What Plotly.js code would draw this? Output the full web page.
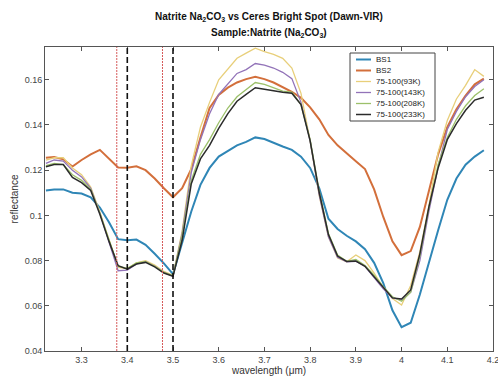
<!DOCTYPE html>
<html>
<head>
<meta charset="utf-8">
<script src="https://cdn.plot.ly/plotly-3.0.1.min.js"></script>
<style>html,body{margin:0;padding:0;background:#fff;}#chart{width:498px;height:380px;}</style>
</head>
<body>
<div id="chart"></div>
<script>
// ---- data ----
const wavelength = [3.222,3.24,3.26,3.28,3.30,3.32,3.34,3.36,3.38,3.40,3.42,3.44,3.46,3.48,3.50,3.52,3.54,3.56,3.58,3.60,3.62,3.64,3.66,3.68,3.70,3.72,3.74,3.76,3.78,3.80,3.82,3.84,3.86,3.88,3.90,3.92,3.94,3.96,3.98,4.00,4.02,4.04,4.06,4.08,4.10,4.12,4.14,4.16,4.18];

const seriesNames = ["BS1","BS2","75-100(93K)","75-100(143K)","75-100(208K)","75-100(233K)"];

const bs1 = [0.111,0.1115,0.1115,0.110,0.1097,0.108,0.1035,0.097,0.0895,0.089,0.0893,0.087,0.083,0.0788,0.074,0.088,0.1017,0.1135,0.121,0.126,0.1287,0.131,0.1325,0.1345,0.1338,0.132,0.1305,0.129,0.126,0.121,0.112,0.0985,0.094,0.091,0.0885,0.085,0.079,0.070,0.058,0.0505,0.0525,0.065,0.0794,0.0934,0.1069,0.1163,0.1224,0.126,0.1288];

const bs2 = [0.1255,0.1258,0.1248,0.1216,0.1245,0.127,0.129,0.125,0.1212,0.1211,0.1217,0.120,0.1163,0.112,0.108,0.112,0.1205,0.1345,0.1475,0.1533,0.1565,0.1588,0.1603,0.1613,0.1603,0.1588,0.1568,0.1547,0.152,0.1478,0.1425,0.1356,0.131,0.1277,0.124,0.1205,0.1115,0.0993,0.0885,0.0824,0.0842,0.0949,0.111,0.127,0.139,0.147,0.153,0.158,0.1605];

const k93 = [0.1245,0.1255,0.1255,0.121,0.118,0.1125,0.1015,0.089,0.077,0.0765,0.079,0.080,0.078,0.0752,0.0735,0.093,0.122,0.139,0.150,0.160,0.165,0.1695,0.1718,0.174,0.1725,0.1712,0.1695,0.1652,0.154,0.133,0.1085,0.0905,0.0812,0.0795,0.0825,0.080,0.0745,0.068,0.0632,0.0603,0.069,0.084,0.1045,0.128,0.142,0.1515,0.1575,0.1645,0.1615];

const k143 = [0.123,0.1245,0.124,0.120,0.117,0.112,0.101,0.088,0.0755,0.0758,0.0785,0.0795,0.0775,0.0748,0.073,0.092,0.119,0.1335,0.145,0.1535,0.158,0.1628,0.1645,0.1672,0.1665,0.1652,0.1633,0.1605,0.150,0.133,0.109,0.0905,0.0815,0.0795,0.0797,0.0775,0.0725,0.0675,0.0635,0.0625,0.066,0.080,0.102,0.1215,0.138,0.146,0.1525,0.157,0.160];

const k208 = [0.122,0.123,0.1225,0.118,0.1155,0.1115,0.101,0.089,0.0775,0.0765,0.079,0.0795,0.0775,0.0748,0.0733,0.091,0.1155,0.127,0.1335,0.141,0.1475,0.1525,0.1555,0.1588,0.158,0.1565,0.155,0.1545,0.149,0.1335,0.1105,0.092,0.0825,0.0797,0.0805,0.0778,0.0735,0.0685,0.064,0.062,0.066,0.082,0.1035,0.1225,0.1345,0.1425,0.1485,0.153,0.156];

const k233 = [0.1215,0.1225,0.1225,0.1168,0.1145,0.111,0.1005,0.0885,0.0777,0.0762,0.0785,0.0792,0.0772,0.0745,0.0731,0.089,0.114,0.125,0.131,0.1385,0.145,0.1505,0.1535,0.1565,0.1558,0.155,0.1545,0.154,0.149,0.133,0.110,0.0915,0.082,0.0796,0.0798,0.0775,0.073,0.068,0.0635,0.063,0.067,0.083,0.104,0.121,0.1335,0.1406,0.1465,0.151,0.1523];

const xTickVals = [3.3,3.4,3.5,3.6,3.7,3.8,3.9,4.0,4.1,4.2];
const xTickText = ["3.3","3.4","3.5","3.6","3.7","3.8","3.9","4","4.1","4.2"];
const yTickVals = [0.04,0.06,0.08,0.10,0.12,0.14,0.16];
const yTickText = ["0.04","0.06","0.08","0.1","0.12","0.14","0.16"];

const dashedLines = [3.4, 3.5];      // black dashed markers
const dottedLines = [3.377, 3.477];  // red dotted markers

// ---- styles ----
const seriesValues = [bs1, bs2, k93, k143, k208, k233];
const colors = ["#2f86b6","#d36f3b","#e8cf7a","#9273b8","#9cc06a","#2b2b2b"];
const widths = [2, 2, 1.3, 1.3, 1.3, 1.5];

const traces = seriesValues.map((vals, i) => ({
  type: "scatter", mode: "lines",
  x: wavelength, y: vals, name: seriesNames[i],
  line: {color: colors[i], width: widths[i]},
  showlegend: false
}));

// plot-area geometry (pixels)
const L = 45, R = 493, T = 47, B = 351;
const px2x = px => (px - L) / (R - L);
const py2y = py => (B - py) / (B - T);

const shapes = [];
dottedLines.forEach(w => shapes.push({type:"line", xref:"x", yref:"paper", x0:w, x1:w, y0:0, y1:1,
  layer:"above", line:{color:"#d65a5a", width:1, dash:"2px,1px"}}));
dashedLines.forEach(w => shapes.push({type:"line", xref:"x", yref:"paper", x0:w, x1:w, y0:0, y1:1,
  layer:"above", line:{color:"#111", width:1.6, dash:"6px,3px"}}));

// legend box (drawn manually to match compact MATLAB legend)
const annotations = [];
shapes.push({type:"rect", xref:"paper", yref:"paper", x0:px2x(350), x1:px2x(435), y0:py2y(121), y1:py2y(53),
  layer:"above", fillcolor:"#ffffff", line:{color:"#444", width:1}});
seriesNames.forEach((nm, i) => {
  const yy = py2y(59.5 + i * 11);
  shapes.push({type:"line", xref:"paper", yref:"paper", x0:px2x(356), x1:px2x(371), y0:yy, y1:yy,
    layer:"above", line:{color:colors[i], width:widths[i]}});
  annotations.push({xref:"paper", yref:"paper", x:px2x(373.5), y:yy, xanchor:"left", yanchor:"middle",
    text:nm, showarrow:false, font:{size:8, color:"#222", family:"Liberation Sans, Arial, sans-serif"}});
});

// second title line
annotations.push({xref:"paper", yref:"paper", x:0.5, y:py2y(33), xanchor:"center", yanchor:"middle",
  text:"<b>Sample:Natrite (Na<sub>2</sub>CO<sub>3</sub>)</b>", showarrow:false,
  font:{size:10, color:"#111", family:"Liberation Sans, Arial, sans-serif"}});

const axisCommon = {
  showline:true, linecolor:"#555", linewidth:1, mirror:"ticks",
  ticks:"inside", ticklen:4, tickcolor:"#555", tickwidth:1,
  showgrid:false, zeroline:false, automargin:false, ticklabeloverflow:"allow",
  tickfont:{size:9, color:"#444", family:"Liberation Sans, Arial, sans-serif"}
};

const layout = {
  width:498, height:380,
  margin:{l:L, r:498-R, t:T, b:380-B},
  paper_bgcolor:"#fff", plot_bgcolor:"#fff",
  font:{family:"Liberation Sans, Arial, sans-serif", color:"#222"},
  title:{text:"<b>Natrite Na<sub>2</sub>CO<sub>3</sub> vs Ceres Bright Spot (Dawn-VIR)</b>",
         x:0.5, xref:"paper", y:1 - 16/380, yref:"container", yanchor:"middle",
         font:{size:10, color:"#111"}},
  xaxis:Object.assign({}, axisCommon, {range:[3.22, 4.2], tickmode:"array", tickvals:xTickVals, ticktext:xTickText,
         title:{text:"wavelength (μm)", standoff:1, font:{size:10, color:"#333"}}}),
  yaxis:Object.assign({}, axisCommon, {range:[0.04, 0.1745], tickmode:"array", tickvals:yTickVals, ticktext:yTickText,
         title:{text:"reflectance", standoff:4, font:{size:10, color:"#333"}}}),
  shapes:shapes, annotations:annotations, showlegend:false
};

Plotly.newPlot("chart", traces, layout, {staticPlot:true, displayModeBar:false});
</script>
</body>
</html>
